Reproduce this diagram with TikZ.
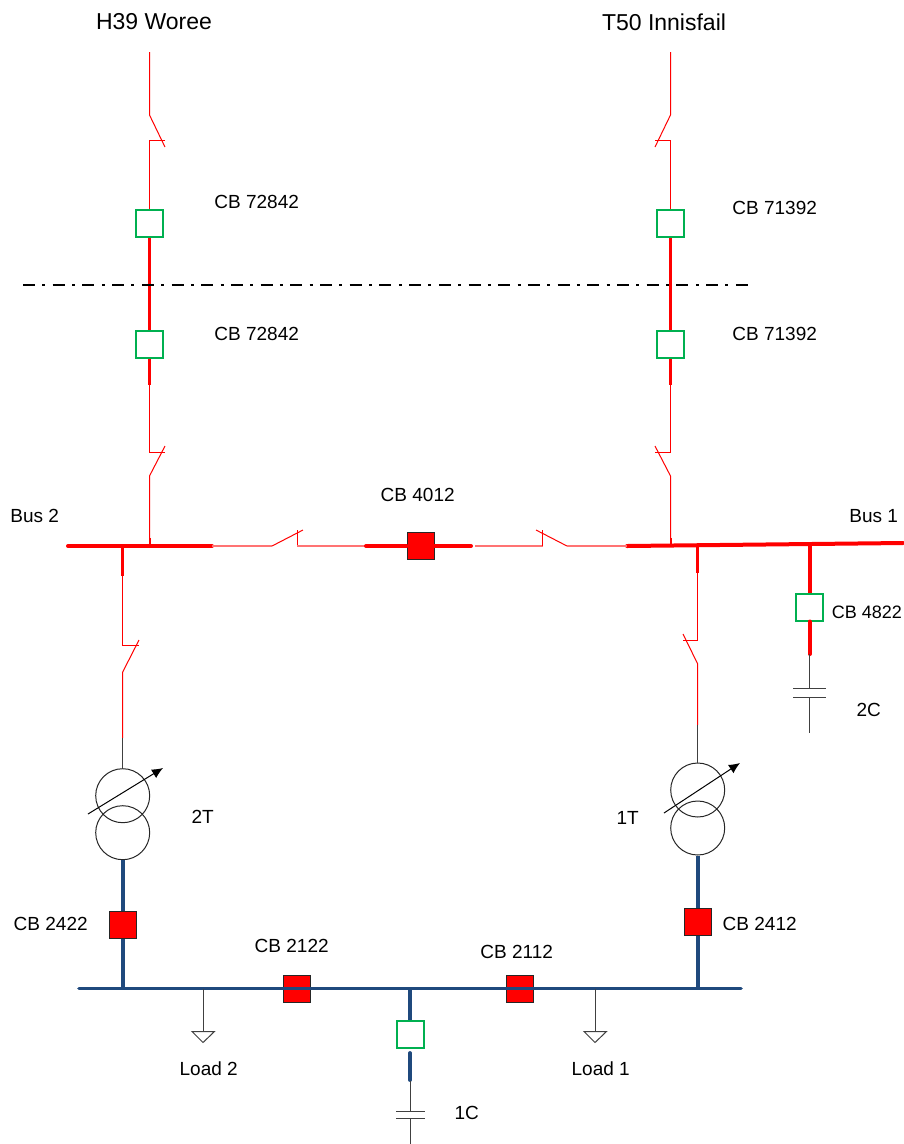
\documentclass[tikz,border=0pt]{standalone}
\usepackage{fontspec}
\usetikzlibrary{arrows.meta}
\setmainfont{Liberation Sans}
\definecolor{cbgreen}{HTML}{00B050}
\definecolor{busblue}{HTML}{1F497D}
\tikzset{
	openbox/.style={draw=cbgreen, fill=white, line width=2pt, minimum size=27pt, inner sep=0pt},
	closedbox/.style={draw=black!85, fill=red, line width=1pt, minimum size=27pt, inner sep=0pt},
	wire/.style={red, line width=1pt},
	thinwire/.style={red!55!white, line width=1.3pt},
	thickwire/.style={red, line width=3.2pt},
	buswire/.style={red, line width=4pt},
	bluewire/.style={busblue, line width=3.8pt},
	blackwire/.style={black!75, line width=1pt},
	label/.style={font=\fontsize{19}{21}\selectfont, inner sep=0pt, xshift=0.7pt, yshift=-0.7pt},
	feeder/.style={font=\fontsize{23}{26}\selectfont, inner sep=0pt},
	windingcircle/.style={circle, draw=black!85, line width=1pt, minimum size=54pt, inner sep=0pt}
}
\begin{document}
\begin{tikzpicture}[x=1pt,y=-1pt]
	\useasboundingbox (0,0) rectangle (903,1144);
	% feeder names
	\node[feeder] (woree) at (154,22) {H39 Woree};
	\node[feeder] (innisfail) at (664,22) {T50 Innisfail};
	% main nodes on the lines
	\node[openbox] (cbWa) at (149.5,223.5) {};
	\node[openbox] (cbWb) at (149.5,344.5) {};
	\node[openbox] (cbIa) at (670.5,223.5) {};
	\node[openbox] (cbIb) at (670.5,344.5) {};
	\node[openbox] (cbCap) at (809.7,607) {};
	\node[openbox] (cbOne) at (410,1034.5) {};
	\node[closedbox] (cbTie) at (420.5,546) {};
	\node[closedbox] (cbTwoT) at (122.7,924.5) {};
	\node[closedbox] (cbOneT) at (697.7,921.5) {};
	\node[closedbox] (cbLeft) at (296.5,988.5) {};
	\node[closedbox] (cbRight) at (519.5,988.5) {};
	\node[windingcircle] (twoUp) at (122.7,795.7) {};
	\node[windingcircle] (twoDown) at (122.7,832.7) {};
	\node[windingcircle] (oneUp) at (697.7,790) {};
	\node[windingcircle] (oneDown) at (697.7,828) {};
	% free ends
	\coordinate (busTwoL) at (68,546);
	\coordinate (busTwoR) at (212,546);
	\coordinate (busOneL) at (627,546);
	\coordinate (busOneR) at (903,543);
	\coordinate (busLowL) at (79,988.5);
	\coordinate (busLowR) at (741,988.5);
	\coordinate (tapWb) at (149.5,546);
	\coordinate (tapIb) at (670.5,546);
	\coordinate (tapTwo) at (122.7,546);
	\coordinate (tapOne) at (697.7,545);
	\coordinate (tapCap) at (809.7,544);
	\coordinate (tapLowTwo) at (122.7,988.5);
	\coordinate (tapLowOne) at (697.7,988.5);
	\coordinate (tapLoadTwo) at (203,988.5);
	\coordinate (tapLoadOne) at (595,988.5);
	\coordinate (tapCapOne) at (410,988.5);
	% busbars
	\draw[buswire, line cap=round] (busTwoL) -- (busTwoR);
	\draw[buswire, line cap=round] (busOneL) -- (busOneR);
	\draw[bluewire, line width=3.6pt, line cap=round] (busLowL) -- (busLowR);
	% H39 line
	\draw[wire] (149.5,52) -- (149.5,115) -- (165,147);
	\draw[wire] (165,140) -- (149.5,140) -- (cbWa.north);
	\draw[thickwire] (cbWa.south) -- (cbWb.north);
	\draw[thickwire] (cbWb.south) -- (149.5,385);
	\draw[wire] (149.5,385) -- (149.5,452) -- (165,452);
	\draw[wire] (165,446) -- (149.5,476) -- (tapWb);
	\draw[wire, line width=2pt] (149.5,538) -- (tapWb);
	% T50 line
	\draw[wire] (670.5,52) -- (670.5,115) -- (655,147);
	\draw[wire] (655,140) -- (670.5,140) -- (cbIa.north);
	\draw[thickwire] (cbIa.south) -- (cbIb.north);
	\draw[thickwire] (cbIb.south) -- (670.5,385);
	\draw[wire] (670.5,385) -- (670.5,452) -- (655,452);
	\draw[wire] (655,446) -- (670.5,476) -- (tapIb);
	\draw[wire, line width=2pt] (670.5,538) -- (tapIb);
	% bus section
	\draw[thinwire] (busTwoR) -- (272,546);
	\draw[wire] (272,546) -- (303,530);
	\draw[wire] (297,530) -- (297,546);
	\draw[thinwire] (297,546) -- (366,546);
	\draw[buswire, line cap=round] (366,546) -- (cbTie.west);
	\draw[buswire, line cap=round] (cbTie.east) -- (471,546);
	\draw[thinwire] (475,546) -- (542.7,546);
	\draw[wire] (542.7,546) -- (542.7,530);
	\draw[wire] (536,530) -- (567,546);
	\draw[thinwire] (567,546) -- (busOneL);
	% dashed cut
	\draw[black, line width=2.7pt, dash pattern=on 12pt off 7.35pt on 3pt off 7.35pt] (23,285) -- (748,285);
	% 2T branch
	\draw[thickwire] (tapTwo) -- (122.7,576);
	\draw[wire] (122.7,576) -- (122.7,645) -- (139,645);
	\draw[wire] (139,640) -- (122.7,672) -- (122.7,738);
	\draw[blackwire] (122.7,738) -- (twoUp.north);
	\draw[bluewire] (twoDown.south) -- (cbTwoT.north);
	\draw[bluewire] (cbTwoT.south) -- (tapLowTwo);
	\draw[-{Latex[length=11pt,width=10pt]}, black, line width=1pt] (88,814) -- (163,768);
	% 1T branch
	\draw[thickwire] (tapOne) -- (697.7,573);
	\draw[wire] (697.7,573) -- (697.7,640) -- (683,640);
	\draw[wire] (683,634) -- (697.7,664) -- (697.7,725);
	\draw[blackwire] (697.7,725) -- (oneUp.north);
	\draw[bluewire] (oneDown.south) -- (cbOneT.north);
	\draw[bluewire] (cbOneT.south) -- (tapLowOne);
	\draw[-{Latex[length=11pt,width=10pt]}, black, line width=1pt] (664,813) -- (740,763);
	% 2C
	\draw[buswire] (tapCap) -- (cbCap.north);
	\draw[buswire, line cap=round] (cbCap.south) -- (809.7,654);
	\draw[blackwire] (809.7,654) -- (809.7,688.7);
	\draw[blackwire] (793,688.7) -- (826,688.7);
	\draw[blackwire] (793,697) -- (826,697);
	\draw[blackwire] (809.7,697) -- (809.7,733);
	% 1C
	\draw[bluewire] (tapCapOne) -- (cbOne.north);
	\draw[bluewire, line cap=round] (410,1053) -- (410,1080);
	\draw[blackwire] (410,1081) -- (410,1111.5);
	\draw[blackwire] (396,1111.5) -- (425,1111.5);
	\draw[blackwire] (396,1118) -- (425,1118);
	\draw[blackwire] (410,1118) -- (410,1144);
	% loads
	\draw[blackwire] (tapLoadTwo) -- (203,1031.5);
	\draw[blackwire] (192,1031.5) -- (214.5,1031.5) -- (203,1042.5) -- cycle;
	\draw[blackwire] (tapLoadOne) -- (595,1031.5);
	\draw[blackwire] (584,1031.5) -- (606.5,1031.5) -- (595,1042.5) -- cycle;
	% labels
	\node[label] (lblWa) at (256,201) {CB 72842};
	\node[label] (lblWb) at (256,333) {CB 72842};
	\node[label] (lblIa) at (774,207) {CB 71392};
	\node[label] (lblIb) at (774,333) {CB 71392};
	\node[label] (lblBusTwo) at (34,515) {Bus 2};
	\node[label] (lblBusOne) at (873,515) {Bus 1};
	\node[label] (lblTie) at (417,494) {CB 4012};
	\node[label, font=\fontsize{18}{20}\selectfont, anchor=west] (lblCap) at (831,612) {CB 4822};
	\node[label] (lblTwoC) at (868,709) {2C};
	\node[label] (lblTwoT) at (202,816) {2T};
	\node[label] (lblOneT) at (627,817) {1T};
	\node[label] (lblCbTwoT) at (50,923) {CB 2422};
	\node[label] (lblCbOneT) at (759,923) {CB 2412};
	\node[label] (lblLeft) at (291,945) {CB 2122};
	\node[label] (lblRight) at (516,951) {CB 2112};
	\node[label] (lblLoadTwo) at (208,1068) {Load 2};
	\node[label] (lblLoadOne) at (600,1068) {Load 1};
	\node[label] (lblOneC) at (466,1112) {1C};
\end{tikzpicture}
\end{document}
